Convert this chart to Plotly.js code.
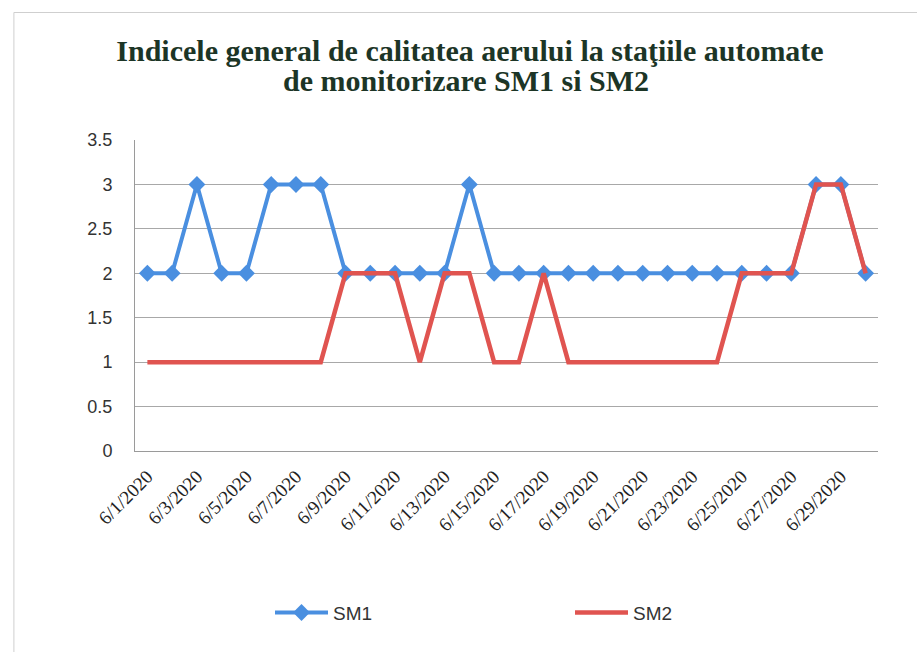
<!DOCTYPE html>
<html>
<head>
<meta charset="utf-8">
<script src="https://cdn.plot.ly/plotly-3.0.1.min.js"></script>
<style>html,body{margin:0;padding:0;background:#fff;}#chart{width:917px;height:652px;}</style>
</head>
<body>
<div id="chart"></div>
<script>
const dates = ["6/1/2020","6/2/2020","6/3/2020","6/4/2020","6/5/2020","6/6/2020","6/7/2020","6/8/2020","6/9/2020","6/10/2020",
"6/11/2020","6/12/2020","6/13/2020","6/14/2020","6/15/2020","6/16/2020","6/17/2020","6/18/2020","6/19/2020","6/20/2020",
"6/21/2020","6/22/2020","6/23/2020","6/24/2020","6/25/2020","6/26/2020","6/27/2020","6/28/2020","6/29/2020","6/30/2020"];
const sm1 = [2,2,3,2,2,3,3,3,2,2, 2,2,2,3,2,2,2,2,2,2, 2,2,2,2,2,2,2,3,3,2];
const sm2 = [1,1,1,1,1,1,1,1,2,2, 2,1,2,2,1,1,2,1,1,1, 1,1,1,1,2,2,2,3,3,2];
const tickLabels = dates.filter((d, i) => i % 2 === 0);
const yTicks = [0,0.5,1,1.5,2,2.5,3,3.5];
const titleLine1 = "Indicele general de calitatea aerului la staţiile automate";
const titleLine2 = "de monitorizare SM1 si SM2";
const titleFont = {family: "Liberation Serif, DejaVu Serif, serif", size: 30, color: "#1c3526", weight: "bold"};

const traces = [
  {x: dates, y: sm1, name: "SM1", type: "scatter", mode: "lines+markers",
   line: {color: "#4a8fe0", width: 4}, marker: {symbol: "diamond", size: 13, color: "#4a8fe0"}},
  {x: dates, y: sm2, name: "SM2", type: "scatter", mode: "lines",
   line: {color: "#e05450", width: 4.5}}
];

const layout = {
  width: 917, height: 652,
  margin: {l: 135, r: 39, t: 140, b: 201},
  paper_bgcolor: "#fff", plot_bgcolor: "#fff",
  showlegend: true,
  title: {text: titleLine1, font: titleFont,
          xref: "container", yref: "container", x: 470 / 917, xanchor: "center", y: 1 - 50/652, yanchor: "middle"},
  annotations: [{text: titleLine2, font: titleFont, showarrow: false,
                 xref: "paper", yref: "paper", x: (466 - 135) / 743, xanchor: "center",
                 y: 1 + (140 - 81) / 311, yanchor: "middle"}],
  xaxis: {type: "category", categoryorder: "array", categoryarray: dates, range: [-0.5, 29.5],
          tickmode: "array", tickvals: tickLabels, ticktext: tickLabels, tickangle: -45,
          tickfont: {family: "Liberation Serif, serif", size: 19, color: "#222"}, ticklabelstandoff: 6,
          showgrid: false, showline: true, linecolor: "#9a9a9a", linewidth: 1, ticks: "", zeroline: false},
  yaxis: {range: [0, 3.5], tickmode: "array", tickvals: yTicks, ticktext: yTicks.map(String),
          tickfont: {family: "Liberation Sans, Arial, sans-serif", size: 18, color: "#333"},
          showgrid: true, gridcolor: "#a8a8a8", gridwidth: 1, showline: true, linecolor: "#9a9a9a",
          ticks: "", ticklabelstandoff: 18, zeroline: false},
  legend: {orientation: "h", x: (270 - 135) / 743, xanchor: "left", y: -0.52, yanchor: "middle",
           itemwidth: 53, entrywidth: 232, entrywidthmode: "pixels",
           font: {family: "Liberation Sans, Arial, sans-serif", size: 19, color: "#333"}},
  shapes: [{type: "rect", xref: "paper", yref: "paper", x0: -0.163, x1: 1.06, y0: -0.75, y1: 1.41,
            line: {color: "#cfcfcf", width: 1}}]
};

Plotly.newPlot("chart", traces, layout, {displayModeBar: false, staticPlot: true});
</script>
</body>
</html>
